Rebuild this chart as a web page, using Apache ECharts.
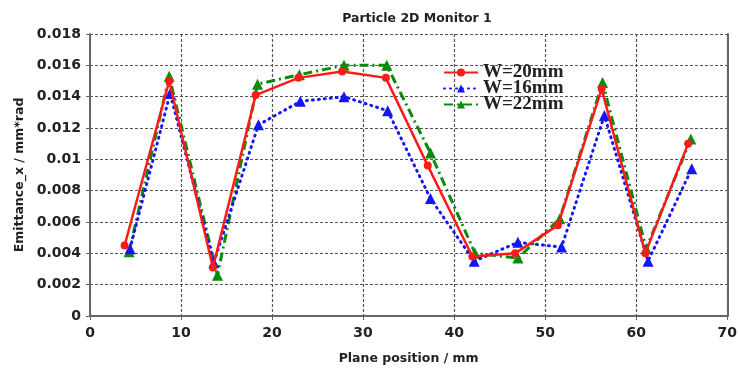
<!DOCTYPE html>
<html>
<head>
<meta charset="utf-8">
<script src="https://cdn.jsdelivr.net/npm/echarts@6/dist/echarts.min.js"></script>
<style>
html,body{margin:0;padding:0;background:#fff;}
#chart{width:740px;height:370px;}
</style>
</head>
<body>
<div id="chart"></div>
<script>
// Emittance measured at each monitor plane, for three slit widths
const seriesNames = ['W=20mm', 'W=16mm', 'W=22mm'];

const posW20 = [3.8, 8.7, 13.5, 18.2, 22.9, 27.7, 32.5, 37.1, 42.0, 46.7, 51.4, 56.2, 61.0, 65.7];
const emitW20 = [0.0045, 0.0150, 0.0031, 0.0141, 0.0152, 0.0156, 0.0152, 0.0096, 0.0038, 0.0040, 0.0058, 0.0145, 0.0040, 0.0110];

const posW16 = [4.4, 8.8, 13.6, 18.5, 23.1, 27.9, 32.7, 37.4, 42.2, 47.0, 51.8, 56.5, 61.3, 66.1];
const emitW16 = [0.0043, 0.0142, 0.0034, 0.0122, 0.0137, 0.0140, 0.0131, 0.0075, 0.0035, 0.0047, 0.0044, 0.0128, 0.0035, 0.0094];

const posW22 = [4.3, 8.7, 14.0, 18.4, 23.0, 27.9, 32.6, 37.4, 42.3, 47.0, 51.6, 56.3, 61.1, 66.0];
const emitW22 = [0.0041, 0.0153, 0.0026, 0.0148, 0.0154, 0.0160, 0.0160, 0.0104, 0.0040, 0.0037, 0.0062, 0.0149, 0.0043, 0.0113];

const xTicks = { min: 0, max: 70, step: 10 };
const yTicks = { min: 0, max: 0.018, step: 0.002 };

const pairs = (xs, ys) => xs.map((x, i) => [x, ys[i]]);

const axisFont = { fontFamily: 'DejaVu Sans', fontWeight: 'bold', fontSize: 14, color: '#222' };
const gridLine = { show: true, lineStyle: { color: '#555', type: [3, 2], width: 1.2 } };
const axisLine = { show: true, lineStyle: { color: '#666', width: 2 } };

const chart = echarts.init(document.getElementById('chart'));
chart.setOption({
  backgroundColor: '#fff',
  animation: false,
  title: {
    text: 'Particle 2D Monitor 1',
    left: 412, top: 7, textAlign: 'center',
    textStyle: { fontFamily: 'DejaVu Sans', fontWeight: 'bold', fontSize: 12.5, color: '#222' }
  },
  grid: { left: 90, right: 10, top: 34, bottom: 53 },
  legend: {
    data: seriesNames,
    orient: 'vertical',
    left: 438, top: 58,
    itemGap: -3,
    itemWidth: 34, itemHeight: 10,
    textStyle: { fontFamily: 'Liberation Serif', fontWeight: 'bold', fontSize: 19, color: '#222' }
  },
  xAxis: {
    type: 'value',
    min: xTicks.min, max: xTicks.max, interval: xTicks.step,
    name: 'Plane position / mm',
    nameLocation: 'middle', nameGap: 36,
    nameTextStyle: { fontFamily: 'DejaVu Sans', fontWeight: 'bold', fontSize: 12.5, color: '#222' },
    axisLine: axisLine,
    axisTick: { show: true, inside: false, length: 4, lineStyle: { color: '#666' } },
    axisLabel: Object.assign({ margin: 10 }, axisFont),
    splitLine: gridLine
  },
  yAxis: [{
    type: 'value',
    min: yTicks.min, max: yTicks.max, interval: yTicks.step,
    name: 'Emittance_x / mm*rad',
    nameLocation: 'middle', nameGap: 64,
    nameTextStyle: { fontFamily: 'DejaVu Sans', fontWeight: 'bold', fontSize: 12.5, color: '#222' },
    axisLine: axisLine,
    axisTick: { show: true, length: 4, lineStyle: { color: '#666' } },
    axisLabel: Object.assign({ margin: 9 }, axisFont),
    splitLine: gridLine
  }, {
    type: 'value', position: 'right',
    min: yTicks.min, max: yTicks.max, interval: yTicks.step,
    axisLine: axisLine, axisTick: { show: false }, axisLabel: { show: false }, splitLine: { show: false }
  }],
  series: [
    {
      name: 'W=20mm', type: 'line', z: 5,
      data: pairs(posW20, emitW20),
      symbol: 'circle', symbolSize: 8,
      itemStyle: { color: '#ff1a1a' },
      lineStyle: { color: '#ff1a1a', width: 2.5 }
    },
    {
      name: 'W=16mm', type: 'line', z: 3,
      data: pairs(posW16, emitW16),
      symbol: 'triangle', symbolSize: 11,
      itemStyle: { color: '#1414ff' },
      lineStyle: { color: '#1414ff', width: 3, type: [1, 5], cap: 'round' }
    },
    {
      name: 'W=22mm', type: 'line', z: 2,
      data: pairs(posW22, emitW22),
      symbol: 'triangle', symbolSize: 11,
      itemStyle: { color: '#0a8a0a' },
      lineStyle: { color: '#0a8a0a', width: 3, type: [9, 4, 2, 4] }
    }
  ]
});
</script>
</body>
</html>
